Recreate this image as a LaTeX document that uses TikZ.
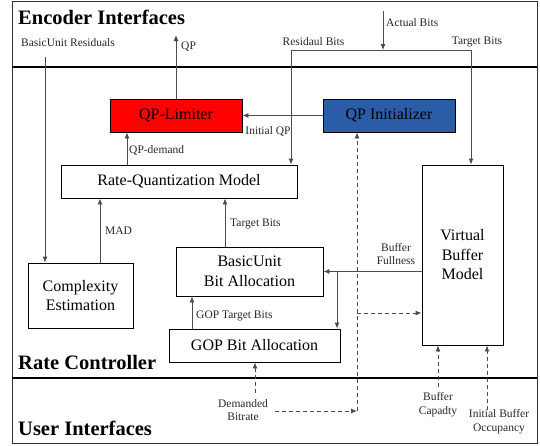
\documentclass[tikz,border=0pt]{standalone}
\usepackage{fontspec}
\setmainfont{Liberation Serif}
\usepackage{xcolor}
\usetikzlibrary{arrows.meta}
\definecolor{initblue}{RGB}{42,92,168}

\begin{document}
\begin{tikzpicture}[x=1pt,y=-1pt,
	box/.style={draw=black, line width=0.9pt, fill=white, align=center, inner sep=0pt, font=\rmfamily\fontsize{16}{19.5}\selectfont},
	lbl/.style={inner sep=0pt, align=center, text=black!85, font=\rmfamily\fontsize{11.5}{13.5}\selectfont},
	head/.style={inner sep=0pt, anchor=west, font=\rmfamily\fontsize{20.5}{24}\selectfont\bfseries},
	arr/.style={draw=black!70, line width=0.9pt, -{Latex[length=6pt,width=5pt]}},
	darr/.style={arr, dash pattern=on 4pt off 3pt},
	ln/.style={draw=black!70, line width=0.9pt}]
			\useasboundingbox (0,0) rectangle (540,445);
			\draw[black!80, line width=1pt] (12,1) rectangle (537,443);
			\draw[line width=1.2pt] (12,67) -- (537,67);
			\draw[line width=1.2pt] (12,378) -- (537,378);
			\node[head] (encIf) at (18,17) {Encoder Interfaces};
			\node[head] (rateCtl) at (18,362) {Rate Controller};
			\node[head] (userIf) at (18,428) {User Interfaces};

			\node[box, fill=red, minimum width=132pt, minimum height=33pt] (lim) at (176,115.5) {QP-Limiter};
			\node[box, fill=initblue, minimum width=132pt, minimum height=33pt] (init) at (389,115.5) {QP Initializer};
			\node[box, minimum width=236pt, minimum height=33pt] (rq) at (179,181.5) {Rate-Quantization Model};
			\node[box, minimum width=105pt, minimum height=65pt] (cx) at (80.5,295.5) {Complexity\\Estimation};
			\node[box, minimum width=147pt, minimum height=49pt] (bu) at (249.5,271.5) {BasicUnit\\Bit Allocation};
			\node[box, minimum width=171pt, minimum height=33pt] (gop) at (254.5,345.5) {GOP Bit Allocation};
			\node[box, minimum width=81pt, minimum height=180pt] (vbm) at (462.5,255) {Virtual\\Buffer\\Model};

			\coordinate (resTop) at (45,57);
			\draw[arr] (resTop) -- (resTop |- cx.north);
			\node[lbl] (resLbl) at (68,43) {BasicUnit Residuals};

			\coordinate (qpOut) at (176,35);
			\draw[arr] (lim.north) -- (qpOut);
			\node[lbl, anchor=west] (qpLbl) at (181,47) {QP};

			\coordinate (abTop) at (383,11);
			\coordinate (abBot) at (383,50);
			\coordinate (resBits) at (291,50);
			\coordinate (tgtBits) at (471,50);
			\draw[ln] (resBits) -- (tgtBits);
			\draw[arr] (abTop) -- (abBot);
			\draw[arr] (resBits) -- (resBits |- rq.north);
			\draw[arr] (tgtBits) -- (tgtBits |- vbm.north);
			\node[lbl, anchor=west] (abLbl) at (386,23) {Actual Bits};
			\node[lbl] (rbLbl) at (313.5,42) {Residaul Bits};
			\node[lbl] (tbLbl) at (477,42) {Target Bits};

			\draw[arr] (init.west) -- (lim.east);
			\node[lbl] (iqLbl) at (268,131.5) {Initial QP};

			\draw[arr] ([xshift=-52pt]rq.north) -- ([xshift=-52pt]rq.north |- lim.south);
			\node[lbl, anchor=west] (qdLbl) at (129,150) {QP-demand};

			\draw[arr] ([xshift=19.5pt]cx.north) -- ([xshift=19.5pt]cx.north |- rq.south);
			\node[lbl, anchor=west] (madLbl) at (105,231) {MAD};

			\draw[arr] ([xshift=-24.5pt]bu.north) -- ([xshift=-24.5pt]bu.north |- rq.south);
			\node[lbl, anchor=west] (tbuLbl) at (230,224) {Target Bits};

			\coordinate (bfJoin) at (337,271.5);
			\draw[arr] (vbm.west |- bu.east) -- (bu.east);
			\draw[arr] (bfJoin) -- (bfJoin |- gop.north);
			\node[lbl] (bfLbl) at (396,254) {Buffer\\Fullness};

			\draw[arr] ([xshift=-62.5pt]gop.north) -- ([xshift=-62.5pt]gop.north |- bu.south);
			\node[lbl, anchor=west] (gtLbl) at (196,316) {GOP Target Bits};

			\coordinate (dbTop) at (255,393);
			\coordinate (dbRight) at (275,411);
			\coordinate (dbCorner) at (357,411);
			\coordinate (dbSplit) at (357,313);
			\draw[darr] (dbTop) -- (dbTop |- gop.south);
			\node[lbl] (dbLbl) at (243,410) {Demanded\\Bitrate};
			\draw[darr] (dbRight) -- (dbCorner);
			\draw[darr] (dbCorner) -- (dbCorner |- init.south);
			\draw[darr] (dbSplit) -- (dbSplit -| vbm.west);

			\coordinate (bcTop) at (438,387);
			\draw[darr] (bcTop) -- (bcTop |- vbm.south);
			\node[lbl] (bcLbl) at (438,404.5) {Buffer\\Capadty};

			\coordinate (ibTop) at (487,410);
			\draw[darr] (ibTop) -- (ibTop |- vbm.south);
			\node[lbl] (ibLbl) at (499,421.5) {Initial Buffer\\Occupancy};
		\end{tikzpicture}
\end{document}
